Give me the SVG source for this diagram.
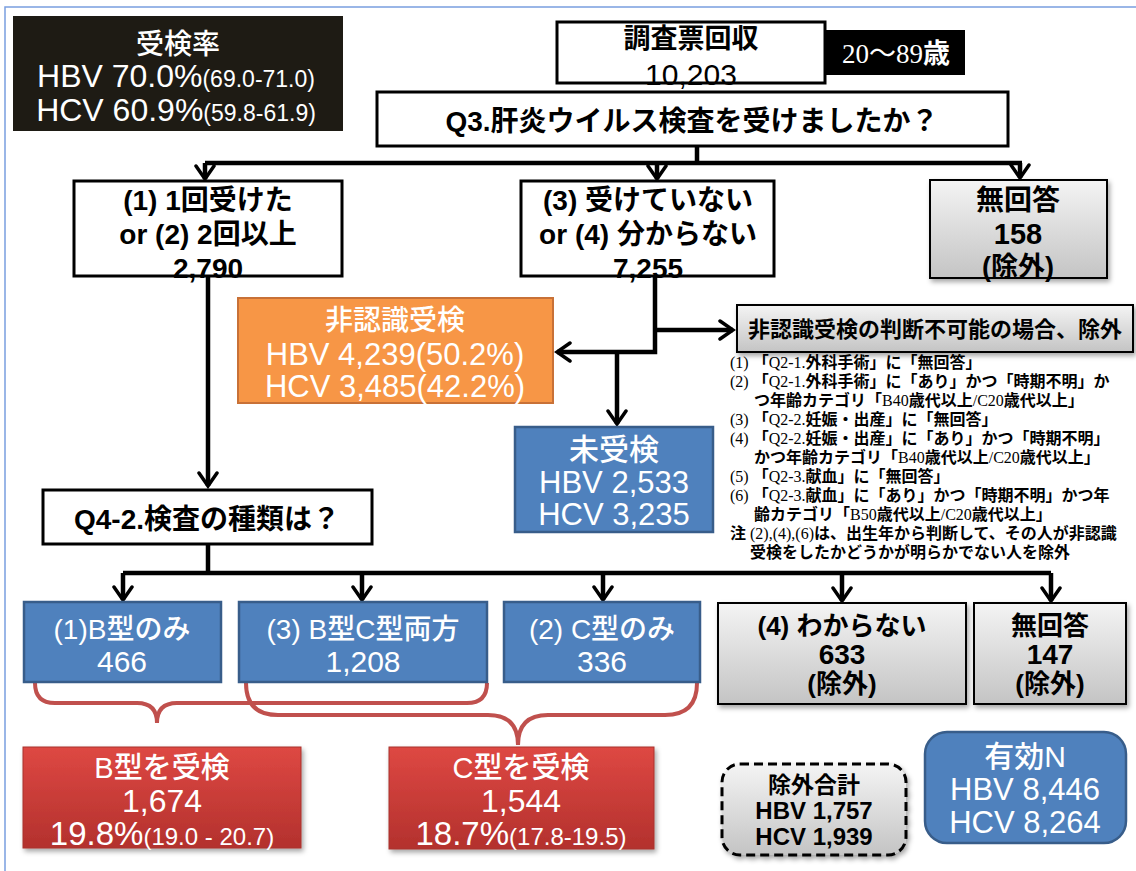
<svg xmlns="http://www.w3.org/2000/svg" width="1136" height="871" viewBox="0 0 1136 871">
<defs>
<style>
.b{font-family:"Liberation Sans","Noto Sans CJK JP",sans-serif;font-weight:bold;fill:#000;text-anchor:middle}
.w{font-family:"Liberation Sans","Noto Sans CJK JP",sans-serif;font-weight:500;fill:#fff;text-anchor:middle}
.n{font-family:"Liberation Serif","Noto Sans CJK JP",serif;font-size:16px;font-weight:bold;fill:#000}
.n .l{font-weight:normal}
.conn{fill:none;stroke:#000;stroke-width:4.5}
.brace{fill:none;stroke:#c0504d;stroke-width:4}
.wbox{fill:#fff;stroke:#000;stroke-width:3}
.blue{fill:#4f81bd;stroke:#385d8a;stroke-width:2.5}
.gray{fill:url(#gg);stroke:#000;stroke-width:2}
.red{fill:url(#rg);stroke:#a8322e;stroke-width:1}
</style>
<linearGradient id="gg" x1="0" y1="0" x2="0" y2="1"><stop offset="0" stop-color="#f4f4f4"/><stop offset="1" stop-color="#c4c4c4"/></linearGradient>
<linearGradient id="rg" x1="0" y1="0" x2="0" y2="1"><stop offset="0" stop-color="#de4843"/><stop offset="1" stop-color="#b3312d"/></linearGradient>
<filter id="sh" x="-10%" y="-10%" width="125%" height="130%"><feDropShadow dx="2" dy="3" stdDeviation="2.5" flood-color="#000" flood-opacity="0.35"/></filter>
<marker id="ah" viewBox="-16 -11 19 22" markerWidth="19" markerHeight="22" refX="0" refY="0" orient="auto" markerUnits="userSpaceOnUse"><path d="M-13,-9 L0,0 L-13,9" fill="none" stroke="#000" stroke-width="3.5" stroke-linecap="round"/></marker>
</defs>
<rect x="0" y="0" width="1136" height="871" fill="#fff"/>
<rect x="5" y="7" width="1145" height="880" fill="none" stroke="#7a9fe0" stroke-width="1.5"/>

<g id="connectors">
<path class="conn" d="M697,146 V163 M205,163 H1022"/>
<path class="conn" d="M205,163 V179" marker-end="url(#ah)"/>
<path class="conn" d="M657,163 V179" marker-end="url(#ah)"/>
<path class="conn" d="M1020,163 V178" marker-end="url(#ah)"/>
<path class="conn" d="M208,277 V486" marker-end="url(#ah)"/>
<path class="conn" d="M655,277 V352 H557" marker-end="url(#ah)"/>
<path class="conn" d="M617,352 V424" marker-end="url(#ah)"/>
<path class="conn" d="M655,330 H733" marker-end="url(#ah)"/>
<path class="conn" d="M208,544 V573 M123,573 H1051"/>
<path class="conn" d="M123,573 V600" marker-end="url(#ah)"/>
<path class="conn" d="M362,573 V600" marker-end="url(#ah)"/>
<path class="conn" d="M603,573 V600" marker-end="url(#ah)"/>
<path class="conn" d="M842,573 V601" marker-end="url(#ah)"/>
<path class="conn" d="M1051,573 V601" marker-end="url(#ah)"/>
<path class="brace" d="M35,683 Q35,703 55,703 L137,703 Q157,703 157,723 Q157,703 177,703 L467,703 Q487,703 487,683"/>
<path class="brace" d="M246,683 Q246,715 278,715 L488,715 Q518,715 518,745 Q518,715 548,715 L665,715 Q697,715 697,683"/>
</g>

<g id="rate">
<rect x="13" y="16" width="330" height="115" fill="#1e1b14"/>
<text class="w" x="178" y="54" font-size="28" font-weight="bold">受検率</text>
<text class="w" x="176" y="87" font-size="32">HBV 70.0%<tspan font-size="23">(69.0-71.0)</tspan></text>
<text class="w" x="176" y="121" font-size="32">HCV 60.9%<tspan font-size="23">(59.8-61.9)</tspan></text>
</g>

<g id="survey">
<rect class="wbox" x="557" y="22" width="268" height="61"/>
<text class="b" x="691" y="48" font-size="27">調査票回収</text>
<text class="b" x="691" y="85" font-size="30" style="font-weight:normal">10,203</text>
</g>

<g id="age">
<rect x="825" y="30" width="140" height="45" fill="#000"/>
<text x="896" y="63" font-size="27" fill="#fff" text-anchor="middle" font-family="Liberation Serif,Noto Sans CJK JP,serif">20〜89<tspan font-family="Noto Sans CJK JP,sans-serif" font-weight="bold">歳</tspan></text>
</g>

<g id="q3">
<rect class="wbox" x="377" y="92" width="631" height="54"/>
<text class="b" x="692" y="131" font-size="28">Q3.肝炎ウイルス検査を受けましたか？</text>
</g>

<g id="once">
<rect class="wbox" x="74" y="181" width="268" height="95"/>
<text class="b" x="208" y="210" font-size="28">(1) 1回受けた</text>
<text class="b" x="208" y="244" font-size="28">or (2) 2回以上</text>
<text class="b" x="208" y="278" font-size="28">2,790</text>
</g>

<g id="not">
<rect class="wbox" x="521" y="181" width="253" height="95"/>
<text class="b" x="648" y="210" font-size="28">(3) 受けていない</text>
<text class="b" x="648" y="244" font-size="28">or (4) 分からない</text>
<text class="b" x="648" y="278" font-size="28">7,255</text>
</g>

<g id="noans1">
<rect class="gray" x="930" y="180" width="177" height="98" filter="url(#sh)"/>
<text class="b" x="1018" y="210" font-size="28">無回答</text>
<text class="b" x="1018" y="244" font-size="29">158</text>
<text class="b" x="1018" y="276" font-size="27">(除外)</text>
</g>

<g id="unaware">
<rect x="238" y="298" width="315" height="105" fill="#f79646" stroke="#c87137" stroke-width="2"/>
<text class="w" x="395" y="330" font-size="28">非認識受検</text>
<text class="w" x="395" y="365" font-size="31">HBV 4,239(50.2%)</text>
<text class="w" x="395" y="397" font-size="31">HCV 3,485(42.2%)</text>
</g>

<g id="judge">
<rect class="gray" x="737" y="305" width="396" height="47" filter="url(#sh)"/>
<text class="b" x="935" y="337" font-size="22">非認識受検の判断不可能の場合、除外</text>
</g>

<g id="notes">
<text class="n" x="730" y="368"><tspan class="l">(1)</tspan> 「<tspan class="l">Q2-1.</tspan>外科手術」に「無回答」</text>
<text class="n" x="730" y="387"><tspan class="l">(2)</tspan> 「<tspan class="l">Q2-1.</tspan>外科手術」に「あり」かつ「時期不明」か</text>
<text class="n" x="754" y="406">つ年齢カテゴリ「<tspan class="l">B40</tspan>歳代以上<tspan class="l">/C20</tspan>歳代以上」</text>
<text class="n" x="730" y="425"><tspan class="l">(3)</tspan> 「<tspan class="l">Q2-2.</tspan>妊娠・出産」に「無回答」</text>
<text class="n" x="730" y="444"><tspan class="l">(4)</tspan> 「<tspan class="l">Q2-2.</tspan>妊娠・出産」に「あり」かつ「時期不明」</text>
<text class="n" x="754" y="463">かつ年齢カテゴリ「<tspan class="l">B40</tspan>歳代以上<tspan class="l">/C20</tspan>歳代以上」</text>
<text class="n" x="730" y="482"><tspan class="l">(5)</tspan> 「<tspan class="l">Q2-3.</tspan>献血」に「無回答」</text>
<text class="n" x="730" y="501"><tspan class="l">(6)</tspan> 「<tspan class="l">Q2-3.</tspan>献血」に「あり」かつ「時期不明」かつ年</text>
<text class="n" x="754" y="520">齢カテゴリ「<tspan class="l">B50</tspan>歳代以上<tspan class="l">/C20</tspan>歳代以上」</text>
<text class="n" x="730" y="539">注 <tspan class="l">(2),(4),(6)</tspan>は、出生年から判断して、その人が非認識</text>
<text class="n" x="750" y="558">受検をしたかどうかが明らかでない人を除外</text>
</g>

<g id="untested">
<rect class="blue" x="515" y="427" width="198" height="105"/>
<text class="w" x="614" y="460" font-size="30">未受検</text>
<text class="w" x="614" y="493" font-size="31">HBV 2,533</text>
<text class="w" x="614" y="525" font-size="31">HCV 3,235</text>
</g>

<g id="q42">
<rect class="wbox" x="43" y="490" width="329" height="54"/>
<text class="b" x="207" y="529" font-size="28">Q4-2.検査の種類は？</text>
</g>

<g id="bonly">
<rect class="blue" x="24" y="602" width="197" height="80"/>
<text class="w" x="122" y="639" font-size="28">(1)B型のみ</text>
<text class="w" x="122" y="672" font-size="30">466</text>
</g>

<g id="both">
<rect class="blue" x="239" y="602" width="248" height="80"/>
<text class="w" x="363" y="639" font-size="28">(3) B型C型両方</text>
<text class="w" x="363" y="672" font-size="30">1,208</text>
</g>

<g id="conly">
<rect class="blue" x="504" y="602" width="196" height="80"/>
<text class="w" x="602" y="639" font-size="28">(2) C型のみ</text>
<text class="w" x="602" y="672" font-size="30">336</text>
</g>

<g id="unknown">
<rect class="gray" x="718" y="603" width="248" height="101" filter="url(#sh)"/>
<text class="b" x="842" y="635" font-size="26">(4) わからない</text>
<text class="b" x="842" y="664" font-size="28">633</text>
<text class="b" x="842" y="693" font-size="26">(除外)</text>
</g>

<g id="noans2">
<rect class="gray" x="974" y="603" width="152" height="101" filter="url(#sh)"/>
<text class="b" x="1050" y="635" font-size="26">無回答</text>
<text class="b" x="1050" y="664" font-size="28">147</text>
<text class="b" x="1050" y="693" font-size="26">(除外)</text>
</g>

<g id="btest">
<rect class="red" x="23" y="747" width="278" height="101" filter="url(#sh)"/>
<text class="w" x="162" y="778" font-size="29">B型を受検</text>
<text class="w" x="162" y="812" font-size="32">1,674</text>
<text class="w" x="162" y="845" font-size="33">19.8%<tspan font-size="24">(19.0 - 20.7)</tspan></text>
</g>

<g id="ctest">
<rect class="red" x="389" y="747" width="265" height="102" filter="url(#sh)"/>
<text class="w" x="521" y="778" font-size="29">C型を受検</text>
<text class="w" x="521" y="812" font-size="32">1,544</text>
<text class="w" x="521" y="845" font-size="33">18.7%<tspan font-size="24">(17.8-19.5)</tspan></text>
</g>

<g id="excl">
<rect x="722" y="764" width="184" height="91" rx="18" fill="url(#gg)" stroke="#000" stroke-width="3" stroke-dasharray="9,5" filter="url(#sh)"/>
<text class="b" x="814" y="793" font-size="23">除外合計</text>
<text class="b" x="814" y="819" font-size="24">HBV 1,757</text>
<text class="b" x="814" y="845" font-size="24">HCV 1,939</text>
</g>

<g id="validn">
<rect class="blue" x="925" y="732" width="201" height="111" rx="22"/>
<text class="w" x="1025" y="767" font-size="30">有効N</text>
<text class="w" x="1025" y="800" font-size="31">HBV 8,446</text>
<text class="w" x="1025" y="833" font-size="31">HCV 8,264</text>
</g>
</svg>
